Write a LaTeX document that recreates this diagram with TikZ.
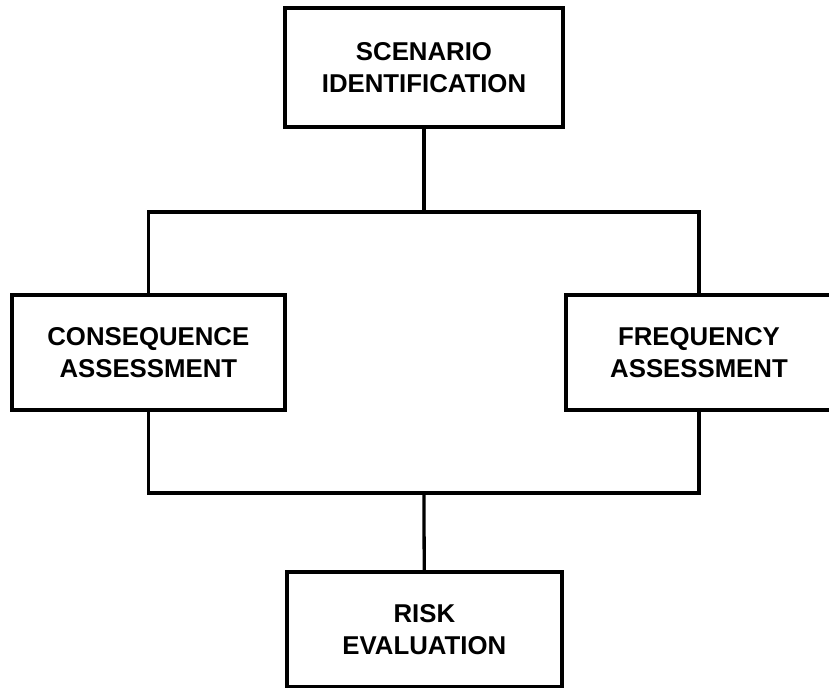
\documentclass[tikz,border=0pt]{standalone}
\usepackage{fontspec}
\setmainfont{Liberation Sans}
\usepackage{tikz}
\usetikzlibrary{positioning, calc}
\tikzset{
	stepnode/.style={
			rectangle,
			draw=black,
			line width=3.4pt,
			fill=white,
			align=center,
			inner sep=0pt,
			font=\fontsize{22}{27}\selectfont\bfseries
		},
	linknode/.style={
			draw=black,
			line width=2.8pt
		}
}
\begin{document}
\begin{tikzpicture}
\useasboundingbox (0,0) rectangle (24.87,-20.64);
    \node[stepnode, minimum width=8.34cm, minimum height=3.57cm] (scen) at (12.72,-2.02)  { SCENARIO\\IDENTIFICATION };
    \node[stepnode, minimum width=8.19cm, minimum height=3.45cm] (cons) at (4.45,-10.57)  { CONSEQUENCE\\ASSESSMENT };
    \node[stepnode, minimum width=7.98cm, minimum height=3.45cm] (freq) at (20.97,-10.57)  { FREQUENCY\\ASSESSMENT };
    \node[stepnode, minimum width=8.25cm, minimum height=3.45cm] (risk) at (12.73,-18.88)  { RISK\\EVALUATION };

    \coordinate (split) at (12.72,-6.36);
    \coordinate (join) at (12.72,-14.79);

    \draw[linknode] (scen) -- (split);
    \draw[linknode] (cons.north) |- (split) -| (freq.north);

    \draw[linknode] (cons.south) |- (join) -| (freq.south);
    \draw[linknode] (join) -- (risk);

\end{tikzpicture}
\end{document}
